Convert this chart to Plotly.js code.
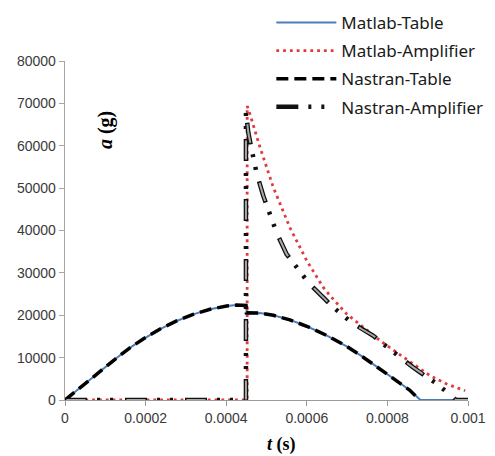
<!DOCTYPE html>
<html>
<head>
<meta charset="utf-8">
<script src="https://cdn.plot.ly/plotly-3.0.1.min.js"></script>
<style>html,body{margin:0;padding:0;background:#fff;}#chart{width:495px;height:456px;}</style>
</head>
<body>
<div id="chart"></div>
<script>
// ---- Data (t in s, a in g) ----
const matlabTableT = [0, 0.0000248, 0.0000578, 0.000095, 0.000128, 0.000161, 0.000194, 0.000236, 0.000277, 0.000318, 0.00036, 0.000401, 0.000426, 0.000450,
  0.000451, 0.000484, 0.000517, 0.000558, 0.0006, 0.00065, 0.0007, 0.00074, 0.00078, 0.000823, 0.000855, 0.000882, 0.001];
const matlabTableA = [0, 1950, 4500, 7300, 9900, 12300, 14390, 16750, 18650, 20200, 21400, 22200, 22400, 22300,
  20280, 20500, 20000, 18900, 17400, 15200, 12600, 10100, 7400, 4550, 2350, 0, 0];

const matlabAmpT = [0, 0.000452, 0.000452, 0.000459, 0.000484, 0.000517, 0.000558, 0.0006, 0.000641, 0.000658, 0.000699, 0.00074, 0.000782, 0.000823, 0.000864, 0.000906, 0.000947, 0.000993];
const matlabAmpA = [0, 0, 69400, 67450, 59600, 50140, 40700, 32850, 26560, 24600, 20280, 17120, 13990, 11230, 8490, 5730, 3770, 2190];

const nastranTableT = [0, 0.0000248, 0.0000578, 0.000095, 0.000128, 0.000161, 0.000194, 0.000236, 0.000277, 0.000318, 0.00036, 0.000401, 0.000426, 0.000449,
  0.000450, 0.000484, 0.000517, 0.000558, 0.0006, 0.00065, 0.0007, 0.00074, 0.00078, 0.000823, 0.000855, 0.00088];
const nastranTableA = [0, 1950, 4500, 7300, 9900, 12300, 14390, 16750, 18650, 20200, 21400, 22200, 22400, 22300,
  20600, 20500, 20000, 18900, 17400, 15200, 12600, 10100, 7400, 4550, 2350, 0];

const nastranAmpT = [0, 0.000449, 0.000449, 0.000455, 0.000463, 0.000476, 0.000492, 0.000525, 0.00055, 0.000604, 0.000645, 0.000666, 0.000711, 0.000736, 0.000765, 0.00079, 0.000835, 0.000864, 0.000893, 0.000918, 0.000964, 0.00097, 0.001];
const nastranAmpA = [0, 0, 68000, 63000, 59200, 53300, 48200, 39500, 34400, 27700, 23800, 21840, 18300, 16750, 15170, 13200, 9670, 7700, 5700, 4150, 610, 0, 0];

const xTickVals = [0, 0.0002, 0.0004, 0.0006, 0.0008, 0.001];
const xTickText = ['0', '0.0002', '0.0004', '0.0006', '0.0008', '0.001'];
const yTickVals = [0, 10000, 20000, 30000, 40000, 50000, 60000, 70000, 80000];
const yTickText = ['0', '10000', '20000', '30000', '40000', '50000', '60000', '70000', '80000'];

const traces = [
  {x: matlabTableT, y: matlabTableA, name: 'Matlab-Table', mode: 'lines', legendgroup: 'g1',
   line: {color: '#4a7ebb', width: 2}},
  {x: matlabAmpT, y: matlabAmpA, name: 'Matlab-Amplifier', mode: 'lines', legendgroup: 'g2',
   line: {color: '#e03a3e', width: 2.8, dash: '2.8px,4px'}},
  {x: nastranTableT, y: nastranTableA, name: 'Nastran-Table', mode: 'lines', legendgroup: 'g3',
   line: {color: '#000000', width: 3.5, dash: '12px,6px'}},
  {x: nastranAmpT, y: nastranAmpA, name: 'Nastran-Amplifier', mode: 'lines', legendgroup: 'g4',
   line: {color: '#111111', width: 4.5, dash: '22px,10px,3px,10px,3px,12px'}},
  {x: nastranAmpT, y: nastranAmpA, name: 'Nastran-Amplifier', mode: 'lines', legendgroup: 'g4', showlegend: false,
   line: {color: '#a8a8a8', width: 2, dash: '0px,1.5px,19px,39.5px'}}
];

const layout = {
  width: 495, height: 456,
  margin: {l: 65, r: 27, t: 61, b: 56, autoexpand: false},
  paper_bgcolor: '#ffffff', plot_bgcolor: '#ffffff',
  showlegend: true,
  legend: {
    x: 0.512, xanchor: 'left', yref: 'container', y: 0.989, yanchor: 'top',
    bgcolor: 'rgba(0,0,0,0)', borderwidth: 0,
    font: {family: 'Noto Sans', size: 17, color: '#1a1a1a'},
    traceorder: 'grouped', tracegroupgap: 3, itemwidth: 60
  },
  xaxis: {
    range: [0, 0.001], tickvals: xTickVals, ticktext: xTickText,
    showgrid: false, zeroline: false, showline: true, linecolor: '#9a9a9a', linewidth: 1.3,
    ticks: 'outside', ticklen: 5, tickcolor: '#9a9a9a',
    tickfont: {family: 'Liberation Sans', size: 14, color: '#3a3a3a'}
  },
  yaxis: {
    range: [0, 80000], tickvals: yTickVals, ticktext: yTickText,
    showgrid: false, zeroline: false, showline: true, linecolor: '#a6a6a6', linewidth: 1.3,
    ticks: 'outside', ticklen: 5, tickcolor: '#a6a6a6',
    tickfont: {family: 'Liberation Sans', size: 14, color: '#3a3a3a'}
  },
  annotations: [
    {text: '<b><i>a</i> (g)</b>', xref: 'paper', yref: 'paper', x: 0.099, y: 0.796,
     textangle: -90, showarrow: false, xanchor: 'center', yanchor: 'middle',
     font: {family: 'Liberation Serif', size: 20, color: '#000'}},
    {text: '<b><i>t</i> (s)</b>', xref: 'paper', yref: 'paper', x: 0.538, y: -0.1298,
     showarrow: false, xanchor: 'center', yanchor: 'middle', borderpad: 0,
     font: {family: 'Liberation Serif', size: 18, color: '#000'}}
  ]
};

Plotly.newPlot('chart', traces, layout, {displayModeBar: false, staticPlot: true});
</script>
</body>
</html>
